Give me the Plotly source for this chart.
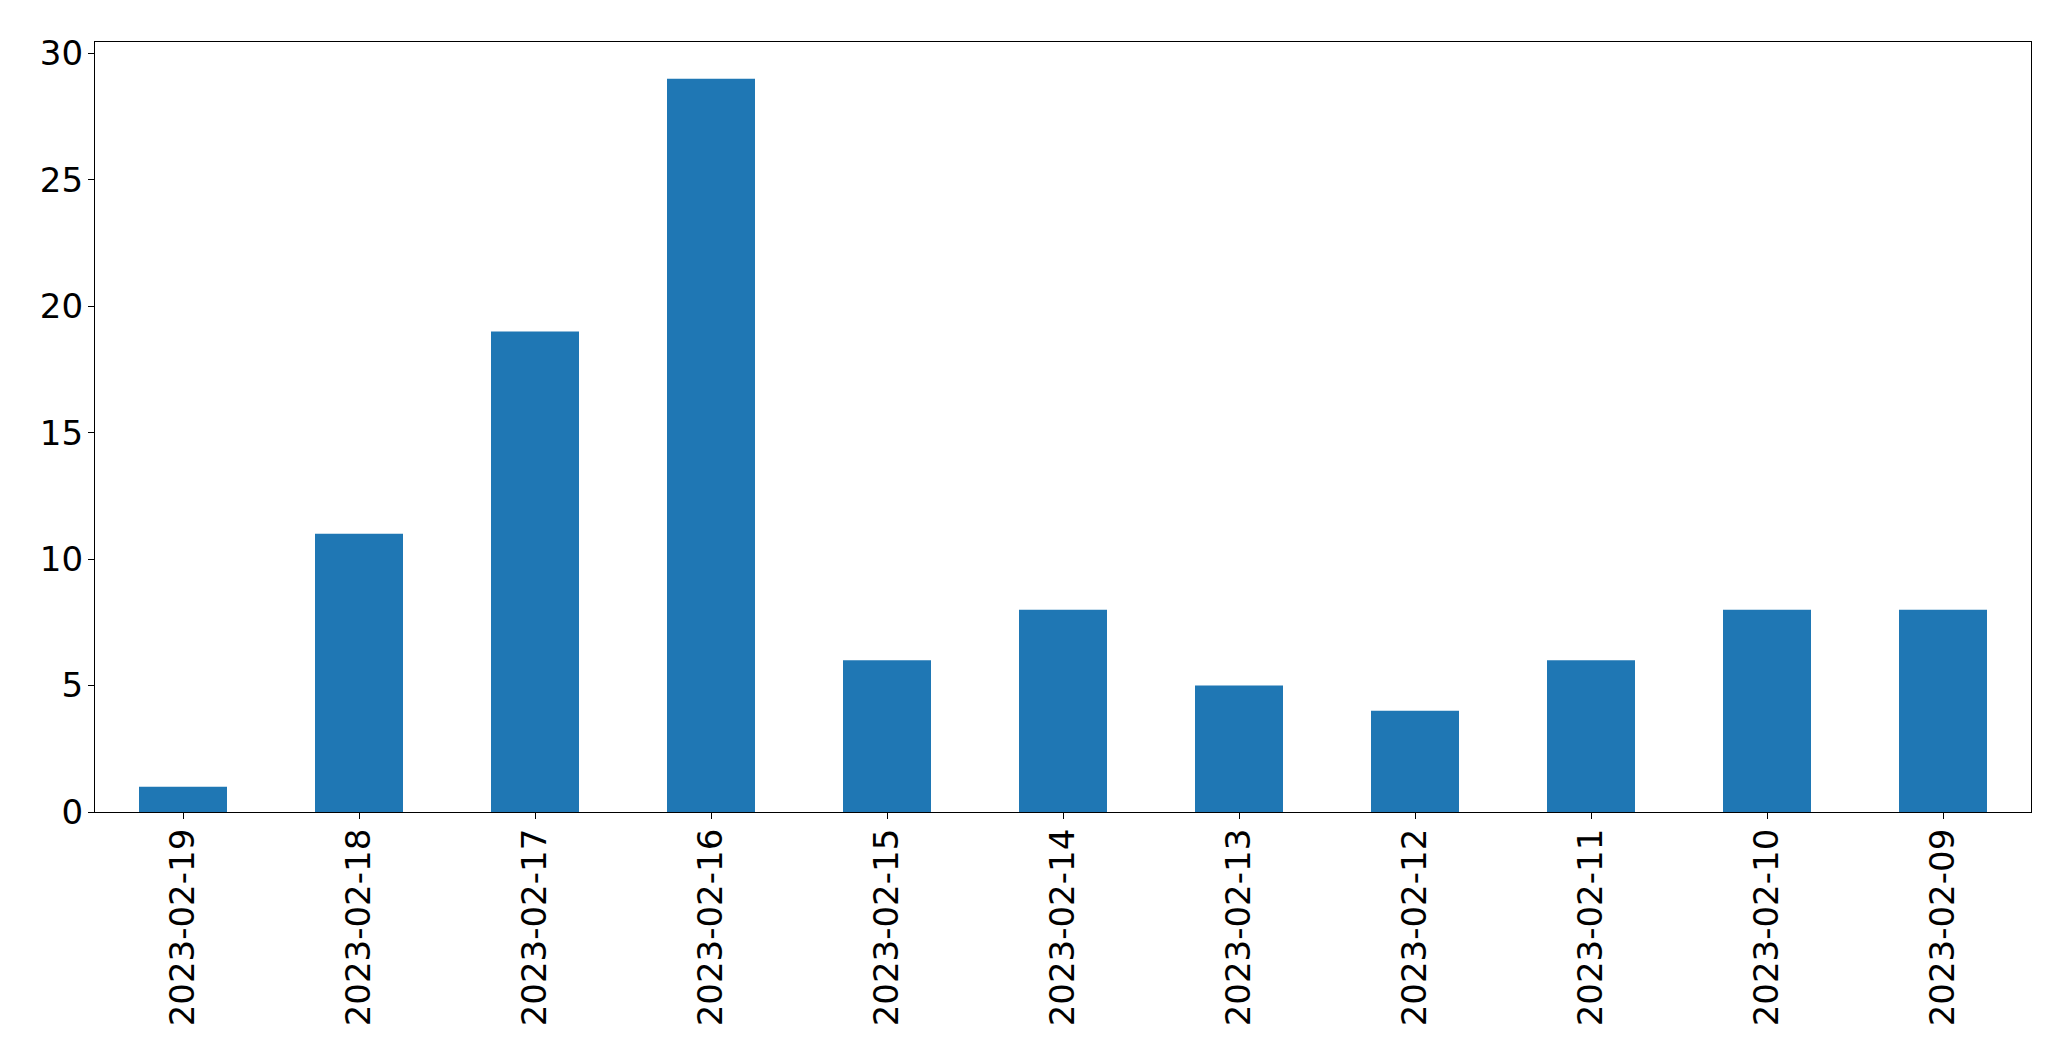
import plotly.graph_objects as go

dates = ["2023-02-19", "2023-02-18", "2023-02-17", "2023-02-16", "2023-02-15",
         "2023-02-14", "2023-02-13", "2023-02-12", "2023-02-11", "2023-02-10", "2023-02-09"]
counts = [1, 11, 19, 29, 6, 8, 5, 4, 6, 8, 8]
y_ticks = [0, 5, 10, 15, 20, 25, 30]

fig = go.Figure(go.Bar(x=dates, y=counts, width=0.5, marker=dict(color="#1f77b4", line=dict(width=0))))

font = dict(family="DejaVu Sans", size=34, color="black")
fig.update_layout(
    width=2071, height=1064,
    margin=dict(l=95, r=40, t=42, b=252, pad=0),
    paper_bgcolor="white", plot_bgcolor="white",
    showlegend=False,
    font=font,
)
fig.update_xaxes(
    type="category", range=[-0.5, 10.5], tickangle=-90, automargin=False,
    showline=True, mirror=True, linecolor="black", linewidth=1.3,
    ticks="outside", ticklen=6, tickcolor="black", tickwidth=1.3,
    showgrid=False, zeroline=False, tickfont=font, ticklabelstandoff=-4,
)
fig.update_yaxes(
    range=[0, 30.45], tickvals=y_ticks, automargin=False,
    showline=True, mirror=True, linecolor="black", linewidth=1.3,
    ticks="outside", ticklen=6, tickcolor="black", tickwidth=1.3,
    showgrid=False, zeroline=False, tickfont=font, ticklabelstandoff=-2,
)
fig.write_html(
    "out.html",
    config={"displayModeBar": False},
    post_script="document.body.style.margin='0';document.body.style.overflow='hidden';",
)
